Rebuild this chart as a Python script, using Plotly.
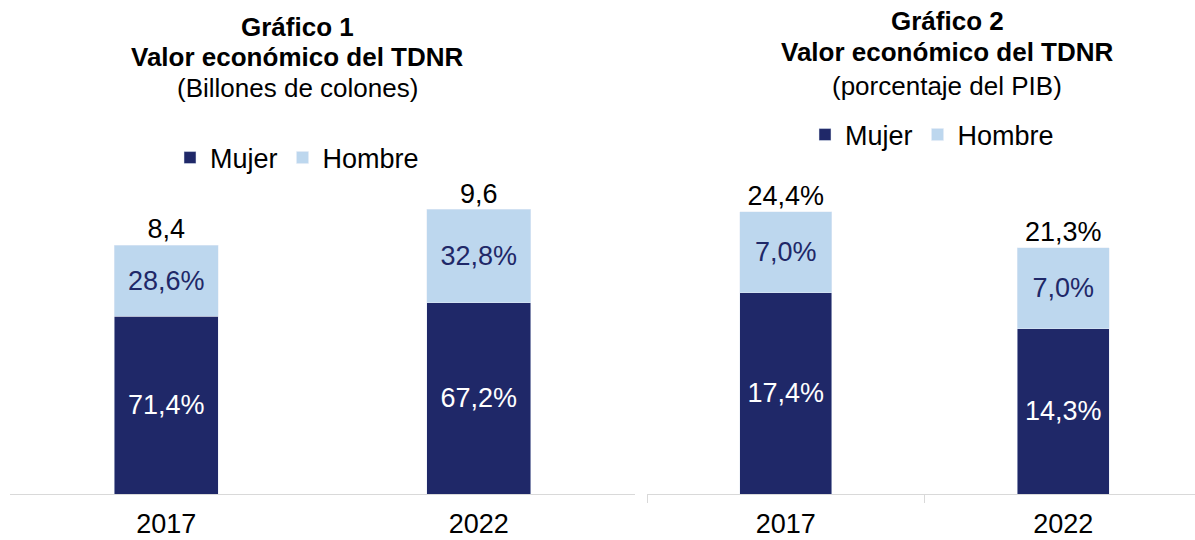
import plotly.graph_objects as go

# ---- data ----
years = ["2017", "2022"]
# Gráfico 1: billones de colones
total_bill = [8.4, 9.6]
mujer_pct = [71.4, 67.2]
hombre_pct = [28.6, 32.8]
# Gráfico 2: porcentaje del PIB
mujer_pib = [17.4, 14.3]
hombre_pib = [7.0, 7.0]
total_pib = [24.4, 21.3]

NAVY = "#1F2868"
LIGHT = "#BDD7EE"
FONT = "Liberation Sans, Arial, sans-serif"
FS = 27


def fmt(v, pct=False):
    s = f"{v:.1f}".replace(".", ",")
    return s + ("%" if pct else "")


mujer_bill = [t * p / 100 for t, p in zip(total_bill, mujer_pct)]
hombre_bill = [t * p / 100 for t, p in zip(total_bill, hombre_pct)]

fig = go.Figure()

# Chart 1
fig.add_trace(go.Bar(x=years, y=mujer_bill, name="Mujer", marker_color=NAVY,
                     text=[fmt(v, True) for v in mujer_pct], textposition="inside",
                     insidetextanchor="middle", textangle=0,
                     textfont=dict(color="white", size=FS, family=FONT),
                     width=0.333, xaxis="x", yaxis="y", legend="legend"))
fig.add_trace(go.Bar(x=years, y=hombre_bill, name="Hombre", marker_color=LIGHT,
                     text=[fmt(v, True) for v in hombre_pct], textposition="inside",
                     insidetextanchor="middle", textangle=0,
                     textfont=dict(color=NAVY, size=FS, family=FONT),
                     width=0.333, xaxis="x", yaxis="y", legend="legend"))
fig.add_trace(go.Scatter(x=years, y=total_bill, mode="text",
                         text=[fmt(v) for v in total_bill], textposition="top center",
                         textfont=dict(color="black", size=FS, family=FONT), cliponaxis=False,
                         showlegend=False, xaxis="x", yaxis="y", hoverinfo="skip"))

# Chart 2
fig.add_trace(go.Bar(x=years, y=mujer_pib, name="Mujer", marker_color=NAVY,
                     text=[fmt(v, True) for v in mujer_pib], textposition="inside",
                     insidetextanchor="middle", textangle=0,
                     textfont=dict(color="white", size=FS, family=FONT),
                     width=0.333, xaxis="x2", yaxis="y2", legend="legend2"))
fig.add_trace(go.Bar(x=years, y=hombre_pib, name="Hombre", marker_color=LIGHT,
                     text=[fmt(v, True) for v in hombre_pib], textposition="inside",
                     insidetextanchor="middle", textangle=0,
                     textfont=dict(color=NAVY, size=FS, family=FONT),
                     width=0.333, xaxis="x2", yaxis="y2", legend="legend2"))
fig.add_trace(go.Scatter(x=years, y=total_pib, mode="text",
                         text=[fmt(v, True) for v in total_pib], textposition="top center",
                         textfont=dict(color="black", size=FS, family=FONT), cliponaxis=False,
                         showlegend=False, xaxis="x2", yaxis="y2", hoverinfo="skip"))

W, H = 1195, 540


def py(pix):
    return 1 - pix / H


ydom = [py(494), py(190)]

fig.update_layout(
    width=W, height=H, margin=dict(l=0, r=0, t=0, b=0),
    paper_bgcolor="white", plot_bgcolor="white",
    barmode="stack",
    font=dict(family=FONT, size=FS, color="black"),
    xaxis=dict(domain=[10 / W, 635 / W], showline=True, linecolor="#D9D9D9", linewidth=1,
               ticks="outside", ticklen=8, tickcolor="rgba(0,0,0,0)", tickson="boundaries",
               showgrid=False, tickfont=dict(size=27, color="black"), ticklabelstandoff=6,
               automargin=False, anchor="y"),
    yaxis=dict(domain=ydom, range=[0, 10.256], visible=False, anchor="x", automargin=False),
    xaxis2=dict(domain=[647 / W, 1.0], range=[-0.5, 1.475], showline=True, linecolor="#D9D9D9",
                linewidth=1, ticks="outside", ticklen=8, tickcolor="#D9D9D9",
                tickson="boundaries", showgrid=False, tickfont=dict(size=27, color="black"),
                ticklabelstandoff=6, automargin=False, anchor="y2"),
    yaxis2=dict(domain=ydom, range=[0, 26.3], visible=False, anchor="x2", automargin=False),
    legend=dict(orientation="h", x=297 / W, xanchor="center", y=py(158), yanchor="middle",
                font=dict(size=FS, color="black"), bgcolor="rgba(0,0,0,0)", traceorder="normal"),
    legend2=dict(orientation="h", x=932 / W, xanchor="center", y=py(135), yanchor="middle",
                 font=dict(size=FS, color="black"), bgcolor="rgba(0,0,0,0)", traceorder="normal"),
    showlegend=True,
)

titles = [
    (297, 27, "<b>Gráfico 1</b>", 26),
    (297, 57, "<b>Valor económico del TDNR</b>", 26),
    (297, 88, "(Billones de colones)", 26),
    (947, 21, "<b>Gráfico 2</b>", 26),
    (947, 52, "<b>Valor económico del TDNR</b>", 26),
    (947, 86, "(porcentaje del PIB)", 26),
]
for x, y, t, s in titles:
    fig.add_annotation(x=x / W, y=py(y), xref="paper", yref="paper", text=t,
                       showarrow=False, xanchor="center", yanchor="middle",
                       font=dict(size=s, color="black", family=FONT))

fig.write_html("out.html", config={"displayModeBar": False},
               post_script="document.body.style.margin='0';document.body.style.overflow='hidden';")
